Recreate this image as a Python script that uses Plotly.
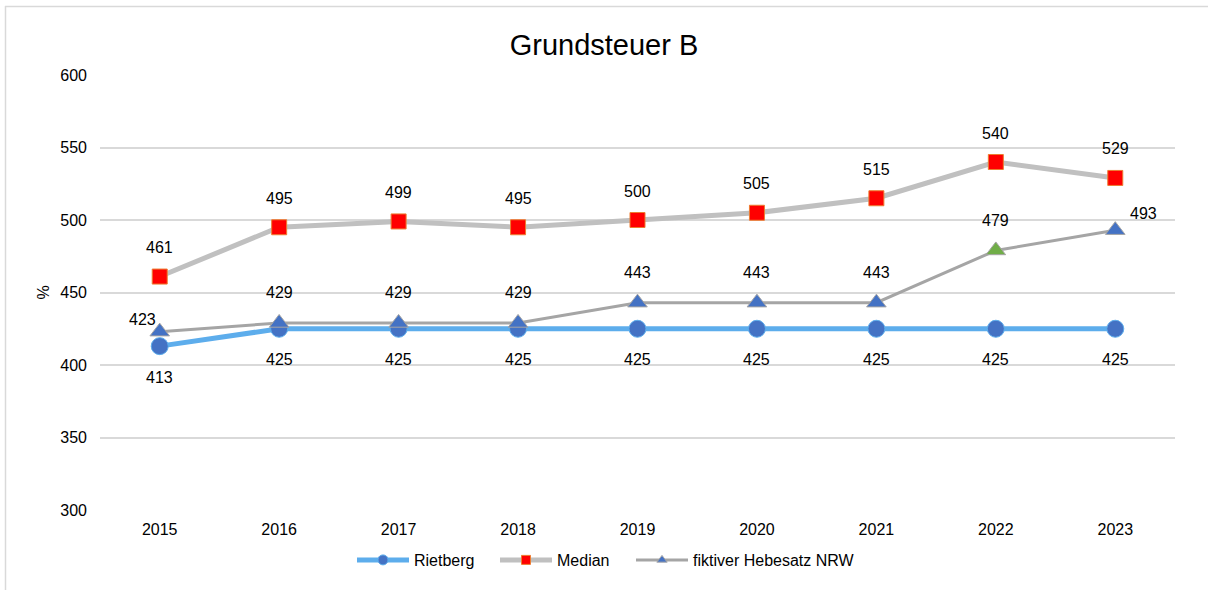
import plotly.graph_objects as go

years = ["2015", "2016", "2017", "2018", "2019", "2020", "2021", "2022", "2023"]
rietberg = [413, 425, 425, 425, 425, 425, 425, 425, 425]
median = [461, 495, 499, 495, 500, 505, 515, 540, 529]
fiktiv = [423, 429, 429, 429, 443, 443, 443, 479, 493]
fiktiv_colors = ["#4472C4"] * 7 + ["#70AD47", "#4472C4"]
names = ["Rietberg", "Median", "fiktiver Hebesatz NRW"]

W, H = 1208, 590
L, R, T, B = 100, 33, 75, 80
FONT = "Liberation Sans, Arial, sans-serif"

styles = [
    dict(line=dict(color="#5DADEC", width=5), sym="circle", size=17, lsize=10,
         color="#4472C4", mline="#5DADEC"),
    dict(line=dict(color="#C0C0C0", width=5), sym="square", size=15, lsize=9,
         color="#FF0000", mline="#ED7D31"),
    dict(line=dict(color="#A5A5A5", width=3), sym="triangle-up", size=17, lsize=9,
         color=fiktiv_colors, mline="#A5A5A5"),
]
series = [rietberg, median, fiktiv]
legend_ids = ["legend", "legend2", "legend3"]
legend_px = [352, 495, 631]

fig = go.Figure()
for name, vals, st in zip(names, series, styles):
    fig.add_trace(go.Scatter(
        x=years, y=vals, name=name, mode="lines+markers", showlegend=False,
        legendgroup=name, line=st["line"],
        marker=dict(symbol=st["sym"], size=st["size"], color=st["color"],
                    line=dict(color=st["mline"], width=1)),
    ))
for name, st, lid in zip(names, styles, legend_ids):
    col = st["color"] if isinstance(st["color"], str) else st["color"][0]
    fig.add_trace(go.Scatter(
        x=[None], y=[None], name=name, mode="lines+markers", showlegend=True,
        legendgroup=name, legend=lid, line=st["line"],
        marker=dict(symbol=st["sym"], size=st["lsize"], color=col,
                    line=dict(color=st["mline"], width=1)),
    ))

font_lbl = dict(family=FONT, size=16, color="#000000")
anns = []
for i, yr in enumerate(years):
    anns.append(dict(x=i, y=rietberg[i], text=str(rietberg[i]), showarrow=False,
                     yshift=-31, font=font_lbl))
    anns.append(dict(x=i, y=median[i], text=str(median[i]), showarrow=False,
                     yshift=29, font=font_lbl))
    xs, ys = 0, 30
    if i == 0:
        xs, ys = -17, 12
    elif i == len(years) - 1:
        xs, ys = 28, 17
    anns.append(dict(x=i, y=fiktiv[i], text=str(fiktiv[i]), showarrow=False,
                     xshift=xs, yshift=ys, font=font_lbl))

pw, ph = W - L - R, H - T - B
def px(xp):
    return (xp - L) / pw
def py(yp):
    return (H - B - yp) / ph

shapes = [
    dict(type="line", xref="paper", yref="paper", x0=px(5.5), x1=px(5.5), y0=py(6), y1=py(H),
         line=dict(color="#D9D9D9", width=1.5)),
    dict(type="line", xref="paper", yref="paper", x0=px(5), x1=px(W), y0=py(6.5), y1=py(6.5),
         line=dict(color="#D9D9D9", width=1.5)),
]

legend_layout = {}
for lid, lx in zip(legend_ids, legend_px):
    legend_layout[lid] = dict(orientation="h", x=px(lx), xanchor="left", y=py(560),
                              yanchor="middle", font=dict(size=16), itemwidth=52,
                              itemsizing="trace", bgcolor="rgba(0,0,0,0)")

fig.update_layout(
    width=W, height=H,
    margin=dict(l=L, r=R, t=T, b=B, autoexpand=False),
    paper_bgcolor="white", plot_bgcolor="white",
    font=dict(family=FONT, size=16, color="#000000"),
    title=dict(text="Grundsteuer B", x=0.5, xanchor="center", y=1 - 45 / H, yanchor="middle",
               font=dict(size=29, color="#000000")),
    xaxis=dict(type="category", showgrid=False, showline=False, zeroline=False,
               ticks="", tickfont=dict(size=16), automargin=False, range=[-0.5, 8.5],
               ticklabelstandoff=8),
    yaxis=dict(range=[300, 600], dtick=50, showgrid=True, gridcolor="#D9D9D9", gridwidth=1.5,
               zeroline=False, showline=False, ticks="", ticklen=0, automargin=False,
               ticklabelstandoff=12,
               title=dict(text="%", standoff=6, font=dict(size=16)), tickfont=dict(size=16)),
    annotations=anns,
    shapes=shapes,
    showlegend=True,
    **legend_layout,
)

fig.write_html("out.html", post_script="document.body.style.margin='0';",
               config={"displayModeBar": False})
